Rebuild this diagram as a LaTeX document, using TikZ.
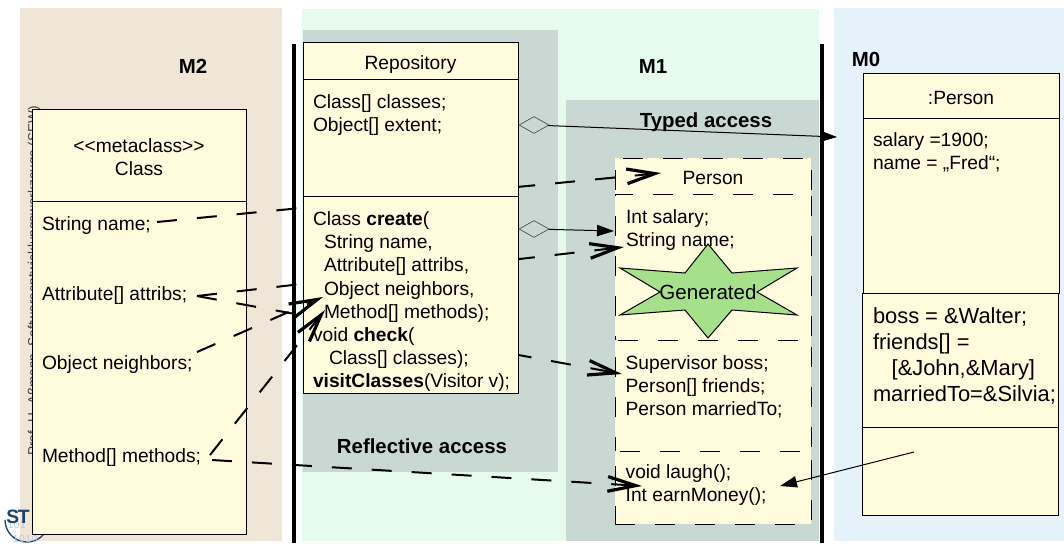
\documentclass[tikz,border=0pt]{standalone}
\usepackage{fontspec}
\setmainfont{Liberation Sans}
\usetikzlibrary{shapes,arrows.meta,positioning}
\definecolor{m2_bg}{HTML}{F0E6D8}
\definecolor{m1_bg}{HTML}{E6FAEE}
\definecolor{m0_bg}{HTML}{E6F2FA}
\definecolor{access_bg}{HTML}{C9D8D2}
\definecolor{class_fill}{HTML}{FFFBDC}
\definecolor{star_fill}{HTML}{A6E08A}
\definecolor{logo_blue}{HTML}{1F3F6E}
\definecolor{logo_grey}{HTML}{B9C4DA}
\newcommand{\headtext}[1]{\raisebox{0pt}[13pt][0pt]{#1}}

\begin{document}
\begin{tikzpicture}[
    x=0.75pt,
    y=-0.75pt,
    class_box/.style={rectangle, draw=black, line width=0.75pt, fill=class_fill, inner sep=0pt, outer sep=0pt, align=center, font=\fontsize{14.4}{17.3}\selectfont},
    person_box/.style={class_box, dash pattern=on 15pt off 15pt},
    class_text/.style={inner sep=0pt, outer sep=0pt, align=left, font=\fontsize{14.4}{17.3}\selectfont},
    big_text/.style={class_text, font=\fontsize{16.4}{19.5}\selectfont},
    level_label/.style={inner sep=0pt, font=\fontsize{15.3}{18}\selectfont\bfseries},
    level_line/.style={line width=3pt, black},
    aggr/.style={diamond, draw=black!70, line width=0.5pt, aspect=1.76, minimum width=22.5pt, minimum height=12.75pt, inner sep=0pt},
    solid_arrow/.style={line width=0.75pt, -{Triangle[length=12.75pt, width=8.5pt]}},
    meta_arrow/.style={line width=1.5pt, dash pattern=on 15pt off 15pt, -{Straight Barb[length=21pt, width=11pt, line width=2.4pt]}}
]
\useasboundingbox (0,0) rectangle (1064,543);

% Level panels
\fill[m2_bg] (20,8) rectangle (282,541);
\fill[m1_bg] (302,9) rectangle (819,541);
\fill[m0_bg] (834,8) rectangle (1064,541);
\fill[access_bg] (303,30) rectangle (558,472);
\fill[access_bg] (566,100) rectangle (819,541);

% Footer and logo, mostly hidden by the Class box
\node[rotate=90, anchor=base west, inner sep=0pt, black!75, font=\fontsize{10.15}{12}\selectfont] (footer) at (37.5,456) {Prof. U. Aßmann, Softwareentwicklungswerkzeuge (SEW)};
\draw[logo_blue, line width=1pt] (5,520) arc[start angle=180, end angle=25, radius=22];
\node[anchor=west, inner sep=0pt, logo_grey, align=left, font=\fontsize{9}{10.5}\ttfamily] (logo_bits) at (7,532) {101\\\hspace*{4pt}1010};
\node[anchor=west, inner sep=0pt, logo_blue, font=\fontsize{14.5}{16}\selectfont\bfseries] (logo) at (6,517) {S\kern-1pt T};

% M2
\node[class_box, anchor=north west, minimum width=160.5pt, minimum height=69pt] (class_head) at (32,109) {\headtext{<{}<metaclass>{}>}\\\headtext{Class}};
\node[class_box, below=0pt of class_head, minimum width=160.5pt, minimum height=249.75pt] (class_body) {};
\node[class_text, below right=9.75pt and 7.5pt of class_body.north west] (class_name) {\strut String name;};
\node[class_text, below right=62.25pt and 7.5pt of class_body.north west] (class_attribs) {\strut Attribute[] attribs;};
\node[class_text, below right=114pt and 7.5pt of class_body.north west] (class_neighbors) {\strut Object neighbors;};
\node[class_text, below right=183.75pt and 7.5pt of class_body.north west] (class_methods) {\strut Method[] methods;};

% Level borders
\coordinate (line_left_top) at (293.5,44);
\coordinate (line_left_bot) at (293.5,543);
\coordinate (line_right_top) at (821.5,44);
\coordinate (line_right_bot) at (821.5,543);
\draw[level_line] (line_left_top) -- (line_left_bot);
\draw[level_line] (line_right_top) -- (line_right_bot);

% M1 generated class
\node[person_box, anchor=north west, minimum width=147pt, minimum height=27pt] (person_head) at (615,158) {\headtext{Person}};
\node[person_box, below=0pt of person_head, minimum width=147pt, minimum height=109.5pt] (person_attr) {};
\node[person_box, below=0pt of person_attr, minimum width=147pt, minimum height=83.25pt] (person_refs) {};
\node[person_box, below=0pt of person_refs, minimum width=147pt, minimum height=54.75pt] (person_ops) {};
\node[class_text, below right=9.75pt and 8.25pt of person_attr.north west] (person_attr_text) {\strut Int salary;\\String name;};
\node[class_text, below right=9.75pt and 8pt of person_refs.north west] (person_refs_text) {\strut Supervisor boss;\\Person[] friends;\\Person marriedTo;};
\node[class_text, below right=8.25pt and 8pt of person_ops.north west] (person_ops_text) {\strut void laugh();\\Int earnMoney();};
\draw[line width=0.75pt, fill=star_fill] (708,244) -- (732,273) -- (797,268) -- (757,292) -- (797,315) -- (732,310) -- (708,338) -- (685,310) -- (620,315) -- (660,292) -- (620,268) -- (685,273) -- cycle;
\node[class_text, font=\fontsize{15.4}{18}\selectfont] (generated) at (708,292) {Generated};

% M0 instance
\node[class_box, anchor=north west, minimum width=147pt, minimum height=33.75pt] (fred_head) at (863,73) {\headtext{:Person}};
\node[class_box, below=0pt of fred_head, minimum width=147pt, minimum height=131.25pt] (fred_attr) {};
\node[class_box, anchor=north west, minimum width=147pt, minimum height=100.5pt] (fred_refs) at (862,293) {};
\node[class_box, below=0pt of fred_refs, minimum width=147pt, minimum height=66.4pt] (fred_ops) {};
\node[class_text, below right=9.4pt and 7.5pt of fred_attr.north west] (fred_attr_text) {\strut salary =1900;\\name = „Fred“;};
\node[big_text, below right=9pt and 8.25pt of fred_refs.north west] (fred_refs_text) {\strut boss = \&Walter;\\friends[] =\\\hspace*{14pt}[\&John,\&Mary]\\marriedTo=\&Silvia;};

% Labels
\node[level_label] (m2_label) at (193,66) {M2};
\node[level_label] (m1_label) at (653,66) {M1};
\node[level_label] (m0_label) at (866,59) {M0};
\node[level_label] (typed_label) at (706,122) {Typed access};
\node[level_label] (reflective_label) at (422,446) {Reflective access};

% Instantiation links, ends of the dashed arrows
\coordinate (from_name) at (157,222);
\coordinate (to_person) at (661,173);
\coordinate (from_attribs) at (197,296);
\coordinate (to_string) at (624,247);
\coordinate (to_boss) at (622,374);
\coordinate (from_neighbors) at (197,352);
\coordinate (to_neighbors) at (323,297);
\coordinate (from_method_up) at (210,455);
\coordinate (to_methods) at (325,310);
\coordinate (from_method) at (212,460);
\coordinate (to_money) at (642,486);

\draw[meta_arrow] (from_name) -- (to_person);
\draw[meta_arrow] (from_attribs) -- (to_string);
\draw[meta_arrow] (from_attribs) -- (to_boss);
\draw[meta_arrow] (from_method) -- (to_money);

% M1 repository
\node[class_box, anchor=north west, minimum width=161.25pt, minimum height=28pt] (repo_head) at (303,42) {\headtext{Repository}};
\node[class_box, below=0pt of repo_head, minimum width=161.25pt, minimum height=88pt] (repo_attr) {};
\node[class_box, below=0pt of repo_attr, minimum width=161.25pt, minimum height=147.75pt] (repo_ops) {};
\node[class_text, below right=9.4pt and 7.5pt of repo_attr.north west] (repo_attr_text) {\strut Class[] classes;\\Object[] extent;};
\node[class_text, below right=9.75pt and 7.5pt of repo_ops.north west] (repo_ops_text) {\strut Class \textbf{create}(\\
    \hspace*{8.25pt}String name,\\
    \hspace*{8.25pt}Attribute[] attribs,\\
    \hspace*{8.25pt}Object neighbors,\\
    \hspace*{8.25pt}Method[] methods);\\
    void \textbf{check}(\\
    \hspace*{12pt}Class[] classes);\\
    \textbf{visitClasses}(Visitor v);};

\draw[meta_arrow] (from_neighbors) -- (to_neighbors);
\draw[meta_arrow] (from_method_up) -- (to_methods);

% Aggregations and object links
\node[aggr] (aggr_extent) at (534,125) {};
\node[aggr] (aggr_create) at (534,229) {};
\coordinate (to_fred) at (837,137);
\coordinate (to_salary) at (614,231);
\coordinate (from_ops) at (914,452);
\coordinate (to_earn) at (780,486);
\draw[solid_arrow] (aggr_extent) -- (to_fred);
\draw[solid_arrow] (aggr_create) -- (to_salary);
\draw[solid_arrow] (from_ops) -- (to_earn);

\end{tikzpicture}
\end{document}
